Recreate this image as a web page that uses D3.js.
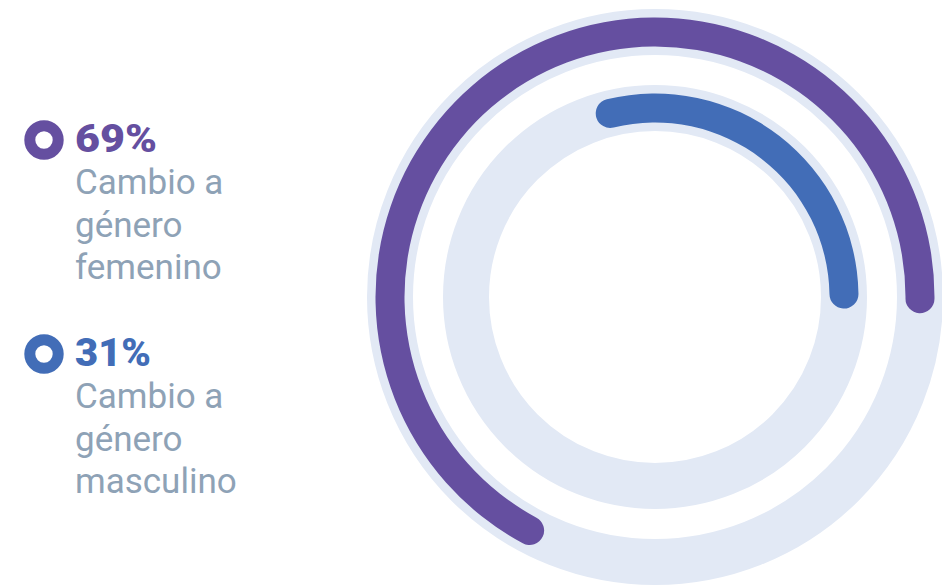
<!DOCTYPE html>
<html>
<head>
<meta charset="utf-8">
<script src="https://cdn.jsdelivr.net/npm/d3@7"></script>
<style>
  body { margin: 0; background: #fff; }
  svg { display: block; }
</style>
</head>
<body>
<div id="chart"></div>
<script>
// data
var keys = ["femenino", "masculino"];
var percents = [69, 31];
var pctLabels = ["69%", "31%"];
var labelLines = [
  ["Cambio a", "género", "femenino"],
  ["Cambio a", "género", "masculino"]
];

var colors = ["#654fa0", "#426db7"];
var trackColor = "#e2e9f5";
var textColor = "#8ea2b6";

var svgWidth = 942;
var svgHeight = 587;

var svg = d3.select("#chart")
  .append("svg")
  .attr("width", svgWidth)
  .attr("height", svgHeight);

// rings
var cx = 655, cy = 297;
var ringGroup = svg.append("g")
  .attr("transform", `translate(${cx}, ${cy})`);

var radius = d3.scaleOrdinal().domain(keys).range([265, 189]);
var angle = d3.scaleLinear().domain([0, 100]).range([0, 2 * Math.PI]);
// arcs end a little past 3 o'clock
var endAngle = Math.PI / 2 + 3.5 * Math.PI / 180;

var trackWidth = 46;
var barWidth = 29;

ringGroup.selectAll(".track")
  .data(keys)
  .enter()
  .append("circle")
  .attr("class", "track")
  .attr("r", d => radius(d))
  .attr("fill", "none")
  .attr("stroke", trackColor)
  .attr("stroke-width", trackWidth);

var arc = d3.arc()
  .innerRadius(d => radius(d.key) - barWidth / 2)
  .outerRadius(d => radius(d.key) + barWidth / 2)
  .startAngle(d => endAngle - angle(d.value))
  .endAngle(endAngle)
  .cornerRadius(barWidth / 2);

ringGroup.selectAll(".bar")
  .data(keys.map((k, i) => ({ key: k, value: percents[i] })))
  .enter()
  .append("path")
  .attr("class", "bar")
  .attr("d", arc)
  .attr("fill", (d, i) => colors[i]);

// legend
var legendY = d3.scaleOrdinal().domain(keys).range([152, 366]);

var legend = svg.selectAll(".legend")
  .data(keys)
  .enter()
  .append("g")
  .attr("class", "legend")
  .attr("transform", d => `translate(0, ${legendY(d)})`);

legend.append("circle")
  .attr("cx", 44)
  .attr("cy", -12)
  .attr("r", 14.2)
  .attr("fill", "none")
  .attr("stroke", (d, i) => colors[i])
  .attr("stroke-width", 11);

legend.append("text")
  .attr("x", 75)
  .attr("y", 0)
  .attr("font-family", "Roboto, sans-serif")
  .attr("font-weight", 900)
  .attr("font-size", 38)
  .attr("textLength", (d, i) => i === 0 ? 82 : 76)
  .attr("lengthAdjust", "spacingAndGlyphs")
  .attr("fill", (d, i) => colors[i])
  .text((d, i) => pctLabels[i]);

legend.each(function(d, i) {
  d3.select(this).selectAll(".line")
    .data(labelLines[i])
    .enter()
    .append("text")
    .attr("class", "line")
    .attr("x", 75)
    .attr("y", (t, j) => 42 + j * 42.5)
    .attr("font-family", "Roboto, sans-serif")
    .attr("font-size", 35)
    .attr("fill", textColor)
    .text(t => t);
});
</script>
</body>
</html>
